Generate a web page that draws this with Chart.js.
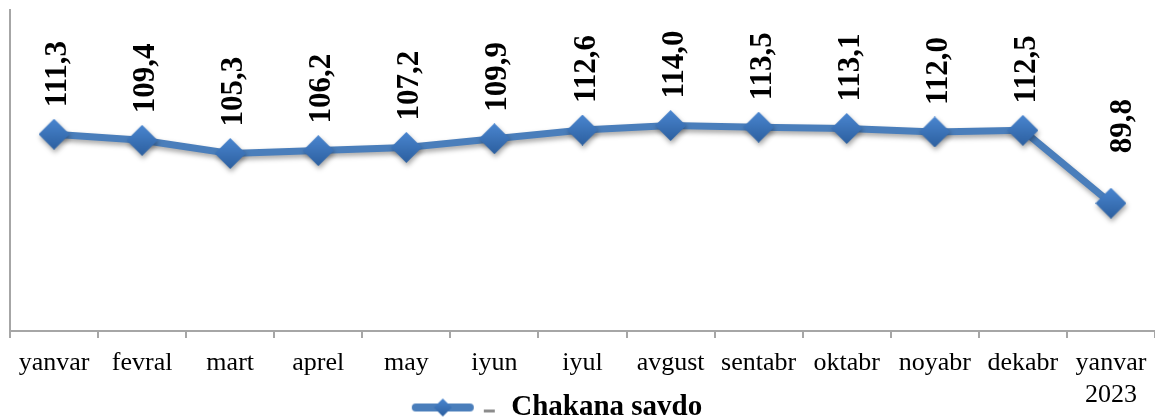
<!DOCTYPE html>
<html>
<head>
<meta charset="utf-8">
<script src="https://cdn.jsdelivr.net/npm/chart.js@4.4.1/dist/chart.umd.min.js"></script>
<style>
  html, body { margin: 0; padding: 0; background: #fff; overflow: hidden; }
  #wrap { position: relative; width: 1155px; height: 419px; }
</style>
</head>
<body>
<div id="wrap"><canvas id="c"></canvas></div>
<script>
// Retail trade index (Chakana savdo), month by month, ending January 2023.
var months = ['yanvar', 'fevral', 'mart', 'aprel', 'may', 'iyun', 'iyul', 'avgust',
  'sentabr', 'oktabr', 'noyabr', 'dekabr', ['yanvar', '2023']];
var chakanaSavdo = [111.3, 109.4, 105.3, 106.2, 107.2, 109.9, 112.6, 114.0, 113.5, 113.1, 112.0, 112.5, 89.8];
var seriesName = 'Chakana savdo';
var yMin = 50, yMax = 150;

var BLUE = '#4a7ebb';
var AXIS = '#a6a6a6';
var SERIF = '"Liberation Serif", "Times New Roman", serif';

// diamond marker with a soft gradient, the way the office chart draws it
function diamond(size) {
  var c = document.createElement('canvas');
  c.width = size; c.height = size;
  var x = c.getContext('2d'), h = size / 2;
  var gr = x.createLinearGradient(0, 0, 0, size);
  gr.addColorStop(0, '#4a86d0'); gr.addColorStop(1, '#2c5f9f');
  x.fillStyle = gr;
  x.beginPath(); x.moveTo(h, 0); x.lineTo(size, h); x.lineTo(h, size); x.lineTo(0, h); x.closePath();
  x.fill();
  return c;
}

// legend swatch: thick line with a diamond, then the little grey dash
function legendIcon() {
  var c = document.createElement('canvas');
  c.width = 86; c.height = 22;
  var x = c.getContext('2d');
  x.strokeStyle = BLUE; x.lineWidth = 8; x.lineCap = 'round';
  x.beginPath(); x.moveTo(5, 11); x.lineTo(59, 11); x.stroke();
  x.drawImage(diamond(18), 23, 2);
  x.fillStyle = '#8c8c8c';
  x.fillRect(73, 13, 11, 3);
  return c;
}

var marker = diamond(31);

// vertical value labels above every point; the last one was dragged
// up and to the right by hand in the original
var valueLabels = {
  id: 'valueLabels',
  afterDatasetsDraw: function (chart) {
    var ctx = chart.ctx, meta = chart.getDatasetMeta(0);
    var last = meta.data.length - 1;
    ctx.save();
    ctx.font = 'bold 31px ' + SERIF;
    ctx.fillStyle = '#000';
    ctx.textAlign = 'left';
    ctx.textBaseline = 'middle';
    meta.data.forEach(function (pt, i) {
      var v = chakanaSavdo[i].toFixed(1).replace('.', ',');
      var dx = i === last ? 12 : 4, dy = i === last ? 50 : 27;
      ctx.save();
      ctx.translate(pt.x + dx, pt.y - dy);
      ctx.rotate(-Math.PI / 2);
      ctx.fillText(v, 0, 0);
      ctx.restore();
    });
    ctx.restore();
  }
};

// drop shadow under the line and markers
var lineShadow = {
  id: 'lineShadow',
  beforeDatasetsDraw: function (chart) {
    var ctx = chart.ctx;
    ctx.save();
    ctx.shadowColor = 'rgba(0,0,0,0.35)';
    ctx.shadowBlur = 5;
    ctx.shadowOffsetX = 1;
    ctx.shadowOffsetY = 3;
  },
  afterDatasetsDraw: function (chart) { chart.ctx.restore(); }
};

// let the second line of the last month label spill below the axis box,
// and move the legend down/left a bit like the original
var layoutTweaks = {
  id: 'layoutTweaks',
  afterLayout: function (chart) {
    chart.scales.x.bottom = chart.height;
    if (chart.legend) {
      chart.legend.left -= 29; chart.legend.right -= 29;
      chart.legend.top += 13; chart.legend.bottom += 13;
    }
  }
};

new Chart(document.getElementById('c'), {
  type: 'line',
  data: {
    labels: months,
    datasets: [{
      label: seriesName,
      data: chakanaSavdo,
      borderColor: BLUE,
      borderWidth: 7,
      tension: 0,
      pointStyle: marker,
      pointRadius: 15,
      pointHoverRadius: 15
    }]
  },
  options: {
    responsive: true,
    maintainAspectRatio: false,
    animation: false,
    layout: { autoPadding: false, padding: { top: 10, left: 10, right: -6, bottom: 0 } },
    plugins: {
      tooltip: { enabled: false },
      legend: {
        position: 'bottom',
        labels: {
          color: '#000',
          font: { family: SERIF, size: 29, weight: 'bold' },
          usePointStyle: true,
          pointStyleWidth: 86,
          padding: 0,
          generateLabels: function () {
            return [{ text: seriesName, pointStyle: legendIcon(), fillStyle: BLUE, strokeStyle: BLUE, lineWidth: 0, datasetIndex: 0 }];
          }
        }
      }
    },
    scales: {
      x: {
        offset: true,
        grid: { display: true, offset: true, drawOnChartArea: false, tickLength: 7, color: AXIS, lineWidth: 2 },
        border: { color: AXIS, width: 2 },
        ticks: { color: '#000', font: { family: SERIF, size: 26 }, padding: 10, maxRotation: 0, autoSkip: false },
        afterFit: function (s) { s.height = 49; s.paddingLeft = 0; s.paddingRight = 0; }
      },
      y: {
        min: yMin, max: yMax,
        grid: { display: false },
        border: { color: AXIS, width: 2 },
        ticks: { display: false },
        afterFit: function (s) { s.width = 0; s.paddingTop = 0; s.paddingBottom = 0; }
      }
    }
  },
  plugins: [lineShadow, valueLabels, layoutTweaks]
});
</script>
</body>
</html>
